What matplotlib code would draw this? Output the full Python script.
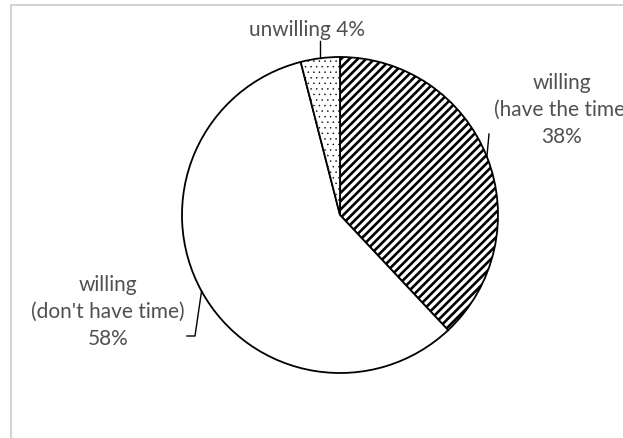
import matplotlib
matplotlib.use("Agg")
import matplotlib.pyplot as plt
import numpy as np
from matplotlib.patches import Rectangle

labels = ["willing\n(have the time)\n38%", "willing\n(don't have time)\n58%", "unwilling 4%"]
values = [38, 58, 4]
hatches = ["////", "", "..."]

W, H = 623, 439
plt.rcParams["font.family"] = ["Lato", "DejaVu Sans"]
plt.rcParams["hatch.linewidth"] = 1.9

fig = plt.figure(figsize=(W / 100, H / 100), dpi=100)
fig.patch.set_facecolor("white")

# light frame (right and bottom edges fall outside the picture)
fig.add_artist(Rectangle((11 / W, -0.1), 1.2, 1.1 - 6 / H, transform=fig.transFigure,
                         fill=False, edgecolor="#d4d4d4", linewidth=1.5))

cx, cy, r = 340, 216, 158
ax = fig.add_axes([(cx - r) / W, (H - cy - r) / H, 2 * r / W, 2 * r / H])
wedges, _ = ax.pie(values, startangle=90, counterclock=False, radius=1,
                   colors=["white"] * 3,
                   wedgeprops=dict(edgecolor="black", linewidth=1.3))
for w, h in zip(wedges, hatches):
    w.set_hatch(h)
if hasattr(wedges[2], "set_hatch_linewidth"):
    wedges[2].set_hatch_linewidth(0.3)
else:
    wedges[2]._hatch_linewidth = 0.3
ax.set_xlim(-1, 1)
ax.set_ylim(-1, 1)
ax.set_aspect("equal")
ax.axis("off")

# leader lines & labels
tcol = "#505050"
fs = 15
cum = np.cumsum([0] + values)
mids = [90 - (cum[i] + values[i] / 2) / 100 * 360 for i in range(3)]

def edge(a):
    t = np.deg2rad(a)
    return np.cos(t), np.sin(t)

def px2data(x, y):
    return (x - cx) / r, (cy - y) / r

# 38%
ex, ey = edge(mids[0])
tx, ty = px2data(489, 135)
ax.plot([ex, tx], [ey, ty], color="black", lw=1, clip_on=False)
ax.text(*px2data(562, 110), labels[0], ha="center", va="center", fontsize=fs,
        color=tcol, linespacing=1.42, clip_on=False)

# 58%
ex, ey = edge(mids[1])
ax.plot([ex, px2data(195, 337)[0], px2data(187, 337)[0]],
        [ey, px2data(195, 337)[1], px2data(187, 337)[1]], color="black", lw=1, clip_on=False)
ax.text(*px2data(108, 312), labels[1], ha="center", va="center", fontsize=fs,
        color=tcol, linespacing=1.42, clip_on=False)

# 4%
ex, ey = edge(mids[2])
ax.plot([ex, ex], [ey, px2data(0, 42)[1]], color="black", lw=1, clip_on=False)
ax.text(*px2data(307, 30), labels[2], ha="center", va="center", fontsize=fs,
        color=tcol, clip_on=False)

fig.savefig("out.png", dpi=100)
